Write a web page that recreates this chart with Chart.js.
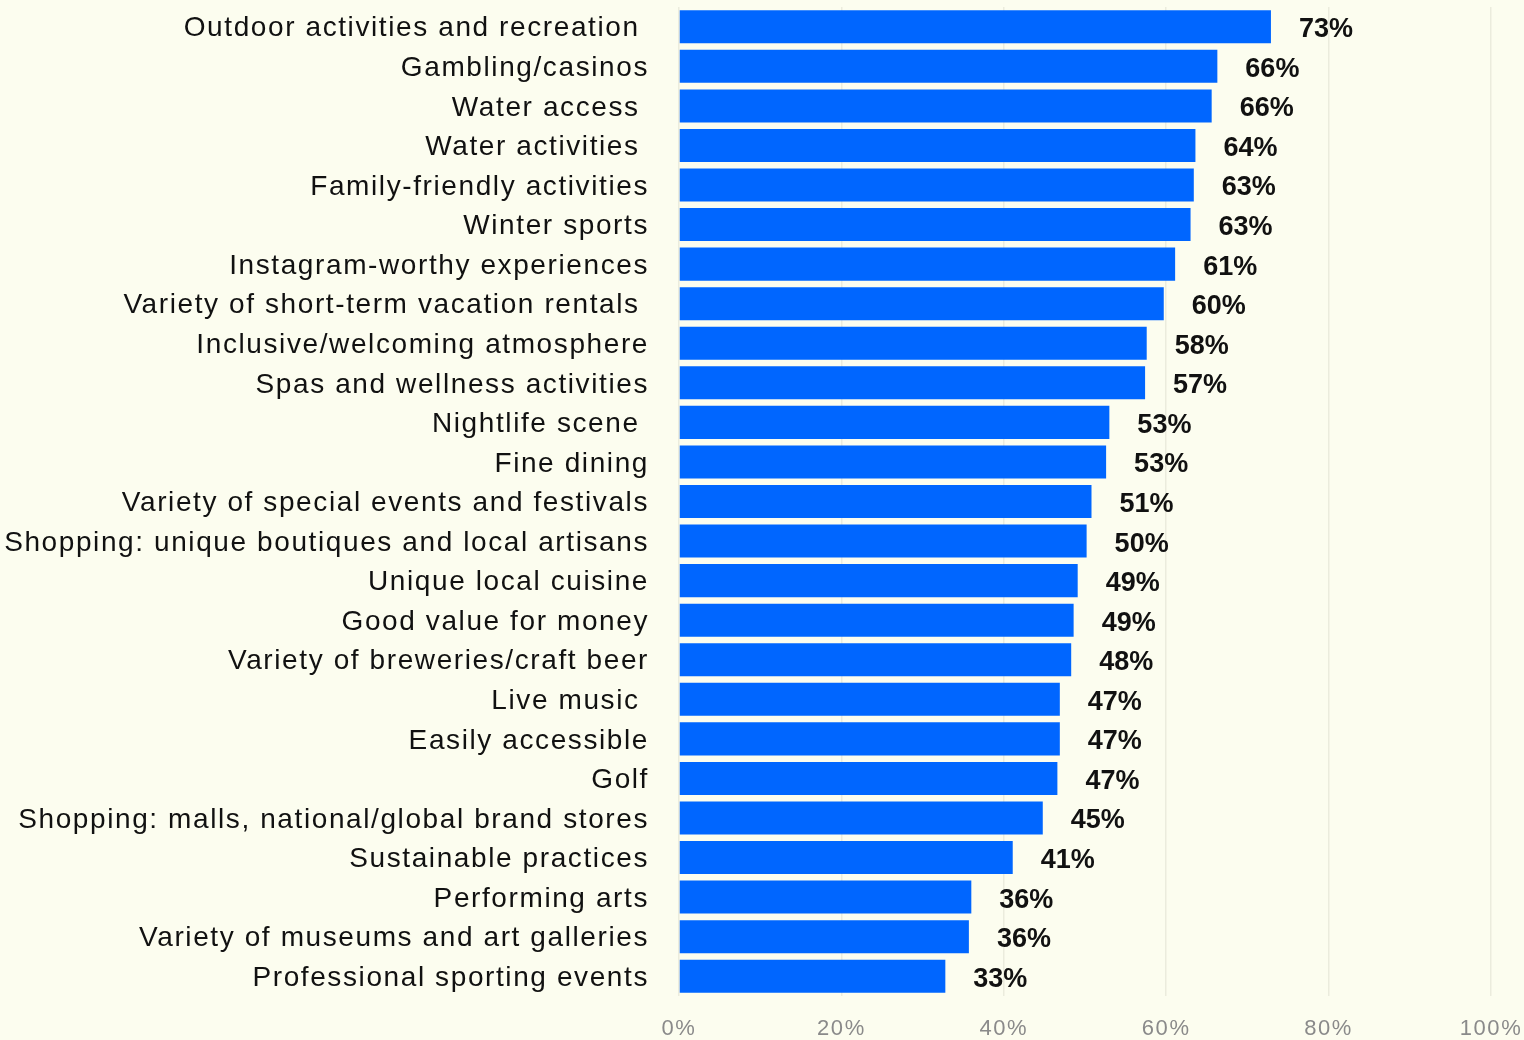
<!DOCTYPE html>
<html>
<head>
<meta charset="utf-8">
<title>Destination attributes</title>
<script src="https://cdn.jsdelivr.net/npm/chart.js@4.4.1/dist/chart.umd.min.js"></script>
<style>
  html, body { margin: 0; padding: 0; background: #fcfdef; }
  #wrap { width: 1524px; height: 1040px; }
</style>
</head>
<body>
<div id="wrap"><canvas id="chart" width="1524" height="1040"></canvas></div>
<script>
// Share of respondents per attribute (%)
const categories = [
  "Outdoor activities and recreation ",
  "Gambling/casinos",
  "Water access ",
  "Water activities ",
  "Family-friendly activities",
  "Winter sports",
  "Instagram-worthy experiences",
  "Variety of short-term vacation rentals ",
  "Inclusive/welcoming atmosphere",
  "Spas and wellness activities",
  "Nightlife scene ",
  "Fine dining",
  "Variety of special events and festivals",
  "Shopping: unique boutiques and local artisans",
  "Unique local cuisine",
  "Good value for money",
  "Variety of breweries/craft beer",
  "Live music ",
  "Easily accessible",
  "Golf",
  "Shopping: malls, national/global brand stores",
  "Sustainable practices",
  "Performing arts",
  "Variety of museums and art galleries",
  "Professional sporting events",
];

const shares = [
  72.9, 66.3, 65.6, 63.6, 63.4, 63.0, 61.1, 59.7, 57.6, 57.4,
  53.0, 52.6, 50.8, 50.2, 49.1, 48.6, 48.3, 46.9, 46.9, 46.6,
  44.8, 41.1, 36.0, 35.7, 32.8,
];

const xTicks = [0, 20, 40, 60, 80, 100];

const FONT = "'Liberation Sans', Arial, sans-serif";

// the axis labels are set a little looser than the default
const letterSpacing = {
  id: "letterSpacing",
  beforeDraw(chart) {
    chart.ctx.letterSpacing = "1.6px";
  },
};

// percentage written just past the end of each bar
const valueLabels = {
  id: "valueLabels",
  afterDatasetsDraw(chart) {
    const ctx = chart.ctx;
    const meta = chart.getDatasetMeta(0);
    ctx.save();
    ctx.letterSpacing = "0px";
    ctx.font = "bold 27px " + FONT;
    ctx.fillStyle = "#111111";
    ctx.textAlign = "left";
    ctx.textBaseline = "middle";
    meta.data.forEach((bar, i) => {
      ctx.fillText(Math.round(shares[i]) + "%", bar.x + 28, bar.y + 3);
    });
    ctx.restore();
  },
};

function createChart() {
  const ctx = document.getElementById("chart");

  new Chart(ctx, {
    type: "bar",
    data: {
      labels: categories,
      datasets: [
        {
          data: shares,
          backgroundColor: "#0066ff",
          borderWidth: 0,
          categoryPercentage: 1,
          barPercentage: 0.835,
        },
      ],
    },
    options: {
      indexAxis: "y",
      responsive: false,
      animation: false,
      layout: {
        padding: { top: 7, right: 33, bottom: 0, left: 0 },
      },
      scales: {
        x: {
          min: 0,
          max: 100,
          afterBuildTicks: (scale) => {
            scale.ticks = xTicks.map((v) => ({ value: v }));
          },
          afterFit: (scale) => {
            scale.height = 44;
            scale.paddingLeft = 0;
            scale.paddingRight = 0;
          },
          grid: {
            color: "#ebecdd",
            lineWidth: 1.5,
            drawTicks: false,
          },
          border: { display: false },
          ticks: {
            padding: 20,
            color: "#8a8a8a",
            font: { family: FONT, size: 22 },
            callback: (v) => v + "%",
          },
        },
        y: {
          afterFit: (scale) => {
            scale.width = 679;
            scale.paddingTop = 0;
            scale.paddingBottom = 0;
          },
          grid: { display: false, drawTicks: false },
          border: { display: false },
          ticks: {
            padding: 30,
            labelOffset: 2,
            color: "#111111",
            font: { family: FONT, size: 28 },
            autoSkip: false,
          },
        },
      },
      plugins: {
        legend: { display: false },
        tooltip: { enabled: false },
      },
    },
    plugins: [letterSpacing, valueLabels],
  });
}

document.addEventListener("DOMContentLoaded", createChart);
</script>
</body>
</html>
